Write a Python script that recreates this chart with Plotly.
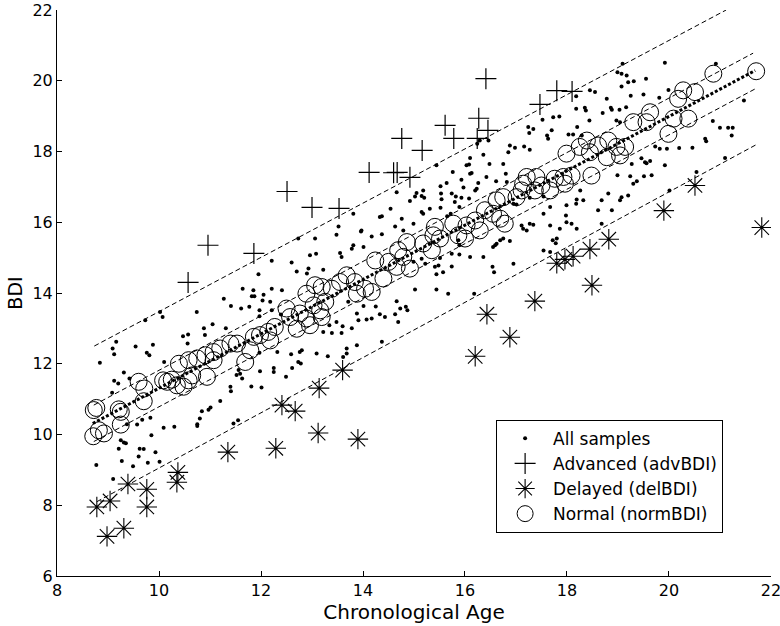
import plotly.graph_objects as go

# ---------------- All samples (chronological age, BDI) ----------------
age_a = [9.16, 9.09, 9.12, 9.54, 9.88, 9.76, 9.81, 10.47, 10.57, 10.90, 10.56, 8.84, 10.10, 9.31, 9.12, 9.20, 9.42, 9.08,
         11.56, 11.59, 11.52, 11.63, 11.40, 11.41, 11.81, 11.20, 11.01, 10.97, 10.84, 10.80, 10.75, 10.75, 11.55, 11.46,
         9.83, 9.67, 9.57, 9.37, 10.09, 10.30, 9.85, 9.25, 9.31, 9.35, 9.21, 9.62, 9.70, 9.93, 9.60, 9.27, 9.78, 10.01,
         9.49, 8.77, 9.10, 10.02, 9.73, 10.74, 10.07]
bdi_a = [12.62, 12.43, 12.27, 12.49, 12.54, 12.31, 12.24, 12.78, 12.83, 12.81, 12.57, 12.03, 12.05, 11.75, 11.52, 11.44, 11.58, 11.18,
         11.82, 11.72, 11.68, 11.58, 11.35, 11.22, 11.36, 10.95, 10.76, 10.70, 10.66, 10.45, 10.29, 10.24, 10.40, 10.31,
         10.47, 10.42, 10.28, 10.29, 10.19, 10.22, 9.98, 9.84, 9.77, 9.75, 9.60, 9.60, 9.59, 9.50, 9.38, 9.25, 9.20, 9.23,
         9.10, 9.14, 8.74, 13.46, 13.23, 13.46, 13.32]

age_b = [13.81, 13.52, 13.48, 13.96, 12.73, 13.06, 13.81, 13.78, 14.01, 12.96, 13.08, 13.55, 13.58, 12.21, 12.60, 12.70, 12.93, 12.90,
         13.22, 11.95, 11.64, 11.85, 11.82, 11.87, 12.05, 12.21, 12.41, 12.03, 12.18, 11.27, 11.41, 11.61, 11.77, 11.97, 12.21,
         12.39, 11.97, 11.05, 10.88, 11.31, 13.71, 14.01, 13.88, 13.91, 14.07, 13.78, 13.60, 13.48, 13.34, 13.22, 13.39, 13.58,
         13.88, 13.68, 12.76, 12.80, 13.09, 13.31, 12.59, 12.73, 12.78, 12.32, 11.97, 12.25, 12.25, 11.98, 12.49, 12.61, 13.61,
         13.68, 12.01, 14.66, 13.97]
bdi_b = [16.24, 15.88, 15.65, 15.74, 15.54, 15.54, 15.35, 15.25, 15.30, 15.07, 15.11, 15.13, 15.02, 14.91, 14.86, 14.61, 14.69, 14.55,
         14.66, 14.53, 14.12, 14.08, 13.91, 13.91, 13.95, 14.12, 14.08, 13.79, 13.75, 13.84, 13.63, 13.56, 13.61, 13.51, 13.51,
         13.39, 13.34, 13.12, 13.00, 13.00, 13.75, 13.63, 13.42, 13.23, 13.25, 13.00, 13.06, 13.18, 13.09, 12.90, 12.87, 12.87,
         12.52, 12.43, 12.33, 12.38, 12.29, 12.21, 12.27, 12.05, 12.01, 12.33, 12.31, 11.88, 11.77, 11.79, 11.63, 11.88, 12.19,
         12.29, 11.33, 16.85, 15.77]

age_c = [17.24, 17.34, 17.26, 16.29, 16.46, 16.24, 16.88, 16.98, 17.16, 17.27,
         16.85, 16.36, 16.10, 16.03, 16.08, 16.48, 16.75, 15.44, 15.76, 16.10,
         16.13, 16.80, 16.61, 16.82, 16.42, 15.93, 16.26, 15.64, 15.52, 15.97,
         16.23, 16.20, 15.74, 15.82, 15.53, 15.54, 15.93, 16.08, 15.18, 15.15,
         15.20, 15.05, 15.02, 14.92, 15.80, 15.89, 15.52, 15.31, 15.72, 15.65,
         15.18, 15.15, 14.76, 14.54, 14.33, 14.37, 14.99, 14.79, 14.63, 14.37,
         14.17, 16.95, 17.01, 17.27, 17.54, 17.11, 17.27, 17.34, 17.14, 17.21,
         16.75, 16.69, 16.88, 16.62, 16.55, 16.59, 17.54, 17.67, 15.87, 15.89,
         15.74, 15.89, 15.51, 16.10, 16.36, 15.41, 15.48, 15.57, 15.44, 15.74,
         16.54, 16.57, 16.95, 15.15, 14.99, 15.22, 15.44, 15.67, 15.02, 16.18,
         14.66, 14.73, 14.84, 14.87, 14.25, 14.43, 14.33, 14.63, 14.69, 14.37, 14.17]
bdi_c = [18.69, 18.64, 18.52, 18.31, 18.31, 18.22, 18.17, 18.11, 18.14, 18.05,
         17.98, 17.91, 17.82, 17.61, 17.63, 17.65, 17.65, 17.61, 17.42, 17.37,
         17.39, 17.37, 17.16, 17.14, 17.28, 17.20, 17.11, 17.11, 17.02, 16.98,
         16.95, 16.90, 16.81, 16.73, 16.81, 16.65, 16.69, 16.67, 16.90, 16.74,
         16.69, 16.83, 16.73, 16.60, 16.57, 16.43, 16.41, 16.38, 16.24, 16.17,
         16.24, 16.29, 16.10, 16.38, 16.15, 16.17, 15.96, 15.77, 15.88, 15.66,
         15.60, 16.52, 16.50, 16.69, 16.73, 15.91, 15.96, 15.93, 15.82, 15.77,
         15.54, 15.49, 15.47, 15.39, 15.30, 15.35, 15.20, 15.16, 15.49, 15.35,
         15.11, 15.09, 14.99, 15.02, 15.02, 14.74, 14.78, 14.59, 14.53, 14.75,
         14.74, 14.59, 14.83, 14.97, 14.88, 14.83, 14.10, 13.98, 14.10, 13.98,
         13.77, 13.56, 13.61, 13.51, 13.62, 13.32, 13.40, 13.40, 13.18, 12.62, 13.28]

age_d = [19.09, 19.92, 20.92, 18.99, 19.07, 19.17, 19.20, 19.31, 19.55, 19.07,
         18.45, 18.55, 18.18, 19.25, 19.50, 19.81, 19.99, 18.78, 18.18, 18.35,
         18.37, 18.70, 18.86, 18.88, 19.16, 19.03, 17.73, 17.85, 17.52, 18.44,
         18.97, 19.04, 18.20, 18.03, 18.12, 17.70, 17.63, 17.61, 18.29, 21.00,
         21.16, 21.25, 21.23, 20.86, 21.47, 20.71, 20.73, 20.46, 20.20, 19.96,
         19.82, 19.73, 21.10, 19.92, 19.63, 19.56, 19.53, 19.46, 19.27, 18.99,
         19.24, 19.51, 19.66, 19.37, 19.30, 19.20, 19.07, 19.04, 18.88, 18.61,
         18.81, 18.68, 18.32, 18.19, 18.18, 18.26, 17.99, 17.98, 17.67, 17.67,
         17.86, 17.99, 18.09, 18.19, 18.68, 20.01, 20.54, 17.80, 17.72, 17.78, 17.54]
bdi_d = [20.48, 20.51, 20.48, 20.24, 20.20, 20.15, 19.96, 19.99, 20.06, 19.84,
         19.73, 19.68, 19.56, 19.58, 19.61, 19.52, 19.74, 19.49, 19.21, 19.24,
         19.16, 19.09, 19.24, 19.18, 19.25, 19.18, 18.97, 18.99, 18.90, 18.88,
         18.88, 18.83, 18.69, 18.48, 18.48, 18.60, 18.36, 18.45, 18.45, 18.67,
         18.67, 18.67, 18.45, 18.86, 19.44, 18.36, 18.29, 18.11, 18.10, 18.08,
         18.08, 18.14, 17.82, 17.61, 17.73, 17.67, 17.70, 17.81, 17.65, 17.33,
         17.30, 17.30, 17.33, 17.16, 17.09, 16.76, 16.71, 16.62, 16.34, 16.34,
         16.81, 16.62, 16.62, 16.64, 16.52, 16.90, 16.48, 16.19, 16.43, 15.91,
         15.82, 16.00, 15.96, 15.82, 15.96, 16.90, 17.42, 15.54, 15.49, 15.41, 16.24]

# ---------------- Advanced (advBDI) ----------------
adv_age = [10.57, 10.96, 11.86, 12.51, 13.00, 13.53, 14.12, 14.60, 14.67, 14.76, 14.92, 15.16, 15.61, 15.78,
           16.24, 16.27, 16.41, 16.45, 17.47, 17.80, 18.10]
adv_bdi = [14.30, 15.35, 15.12, 16.87, 16.42, 16.39, 17.41, 17.40, 17.41, 18.37, 17.27, 18.03, 18.74, 18.37,
           18.37, 18.94, 20.06, 18.60, 19.33, 19.72, 19.70]

# ---------------- Delayed (delBDI) ----------------
del_age = [8.78, 9.04, 8.98, 9.31, 9.39, 9.76, 9.76, 10.37, 10.35, 11.35, 12.29, 12.41, 12.67, 13.12, 13.14,
           13.90, 13.60, 16.20, 16.43, 16.88, 17.37, 18.49, 17.80, 17.96, 18.12, 18.45, 18.82, 19.90, 20.51, 21.82]
del_bdi = [7.95, 8.12, 7.12, 7.35, 8.60, 8.45, 7.95, 8.93, 8.65, 9.50, 9.61, 10.83, 10.66, 10.04, 11.31,
           9.87, 11.82, 12.21, 13.40, 12.75, 13.77, 14.22, 14.84, 14.95, 15.04, 15.24, 15.52, 16.33, 17.04, 15.85]

# ---------------- Normal (normBDI) ----------------
norm_age = [8.77, 8.72, 9.21, 9.25, 8.71, 8.92, 8.82, 9.25, 9.70, 9.60,
            9.71, 10.16, 10.08, 10.25, 10.35, 10.39, 10.58, 10.48, 10.58, 10.65,
            10.75, 10.91, 10.94, 11.07, 11.20, 11.07, 11.40, 11.53, 11.69, 11.79,
            11.86, 11.98, 12.14, 12.18, 12.27, 12.50, 12.57, 12.70, 12.76, 12.89,
            12.96, 13.03, 13.16, 13.26, 13.19, 12.89, 13.06, 13.19, 13.39, 13.55,
            13.68, 13.88, 14.04, 13.84, 14.24, 14.17, 14.40, 14.50, 14.69, 14.79,
            14.66, 14.92, 14.86, 15.18, 15.35, 15.41, 15.38, 15.51, 15.77, 15.87,
            16.00, 16.03, 16.20, 16.39, 16.62, 16.55, 16.69, 16.78, 16.75, 17.11,
            17.21, 17.37, 17.40, 17.50, 17.67, 17.76, 17.93, 17.99, 17.96, 17.14,
            17.01, 16.29, 18.09, 18.25, 18.39, 18.45, 18.48, 18.61, 18.78, 18.81,
            18.97, 19.04, 19.14, 19.30, 19.56, 19.63, 19.99, 20.09, 20.38, 20.18,
            20.28, 20.51, 20.87, 21.71]
norm_bdi = [10.75, 10.69, 10.71, 10.64, 9.95, 10.03, 10.12, 10.28, 10.94, 11.49,
            11.30, 11.49, 11.53, 11.55, 11.39, 12.00, 12.10, 11.35, 11.53, 11.67,
            12.15, 12.24, 11.63, 12.33, 12.43, 12.10, 12.57, 12.57, 12.05, 12.38,
            12.76, 12.81, 12.90, 12.66, 13.04, 13.56, 13.32, 12.99, 13.42, 13.28,
            13.09, 13.65, 13.51, 13.75, 13.32, 13.98, 14.22, 14.17, 14.12, 14.31,
            14.50, 13.98, 14.12, 14.31, 14.92, 14.03, 14.41, 14.88, 15.21, 15.02,
            14.74, 14.69, 15.44, 15.40, 15.21, 15.87, 15.63, 15.54, 15.96, 15.63,
            15.54, 15.91, 16.05, 16.34, 16.62, 16.24, 16.10, 15.96, 16.71, 16.90,
            17.28, 16.90, 17.28, 17.04, 16.90, 17.23, 17.28, 17.94, 17.09, 17.09,
            16.71, 15.77, 17.32, 18.13, 18.31, 17.98, 17.32, 18.17, 17.84, 18.31,
            18.13, 17.89, 18.13, 18.83, 18.83, 19.11, 18.50, 18.93, 18.93, 19.49,
            19.73, 19.68, 20.20, 20.27]

# ---------------- Regression line and bands (end points) ----------------
fit_age = [8.70, 21.69]
fit_bdi = [10.31, 20.29]
inner_up_age = [8.72, 21.65]
inner_up_bdi = [10.83, 20.78]
inner_lo_age = [8.72, 21.69]
inner_lo_bdi = [9.80, 19.77]
outer_up_age = [8.73, 21.12]
outer_up_bdi = [12.50, 22.00]
outer_lo_age = [8.78, 21.72]
outer_lo_bdi = [8.10, 18.20]

x_ticks = [8, 10, 12, 14, 16, 18, 20, 22]
y_ticks = [6, 8, 10, 12, 14, 16, 18, 20, 22]

all_age = age_a + age_b + age_c + age_d
all_bdi = bdi_a + bdi_b + bdi_c + bdi_d

FONT = "DejaVu Sans"
fig = go.Figure()

dash_style = dict(color="black", width=1, dash="5px,3px")
for xs, ys in [(inner_up_age, inner_up_bdi), (inner_lo_age, inner_lo_bdi),
               (outer_up_age, outer_up_bdi), (outer_lo_age, outer_lo_bdi)]:
    fig.add_trace(go.Scatter(x=xs, y=ys, mode="lines", line=dash_style,
                             showlegend=False, hoverinfo="skip"))
fig.add_trace(go.Scatter(x=fit_age, y=fit_bdi, mode="lines",
                         line=dict(color="black", width=3, dash="3px,2px"),
                         showlegend=False, hoverinfo="skip"))

fig.add_trace(go.Scatter(x=all_age, y=all_bdi, mode="markers", name="All samples",
                         marker=dict(symbol="circle", size=4, color="black")))
fig.add_trace(go.Scatter(x=adv_age, y=adv_bdi, mode="markers", name="Advanced (advBDI)",
                         marker=dict(symbol="cross-thin-open", size=15, color="black",
                                     line=dict(color="black", width=1.2))))
fig.add_trace(go.Scatter(x=del_age, y=del_bdi, mode="markers", name="Delayed (delBDI)",
                         marker=dict(symbol="asterisk-open", size=17, color="black",
                                     line=dict(color="black", width=1.1))))
fig.add_trace(go.Scatter(x=norm_age, y=norm_bdi, mode="markers", name="Normal (normBDI)",
                         marker=dict(symbol="circle-open", size=17, color="black",
                                     line=dict(color="black", width=1))))

axis_common = dict(showline=True, linecolor="black", linewidth=1, mirror=False,
                   ticks="inside", ticklen=5, tickcolor="black", showgrid=False,
                   zeroline=False, ticklabeloverflow="allow", automargin=False,
                   tickfont=dict(family=FONT, size=16, color="black"))
fig.update_layout(
    width=780, height=626,
    margin=dict(l=57, r=9, t=10, b=50),
    paper_bgcolor="white", plot_bgcolor="white",
    font=dict(family=FONT, color="black"),
    xaxis=dict(range=[7.999, 22.001], tickmode="array", tickvals=x_ticks,
               ticktext=[str(v) for v in x_ticks],
               title=dict(text="Chronological Age", font=dict(family=FONT, size=20), standoff=3),
               **axis_common),
    yaxis=dict(range=[5.999, 22.001], tickmode="array", tickvals=y_ticks,
               ticktext=[str(v) for v in y_ticks],
               title=dict(text="BDI", font=dict(family=FONT, size=19), standoff=4),
               **axis_common),
    legend=dict(x=0.615, y=0.276, xanchor="left", yanchor="top",
                bgcolor="white", bordercolor="black", borderwidth=1,
                font=dict(family=FONT, size=17, color="black"),
                itemwidth=46, tracegroupgap=0),
    showlegend=True,
)

fig.write_html("out.html", config={"displayModeBar": False},
               post_script="document.body.style.margin='0';")
